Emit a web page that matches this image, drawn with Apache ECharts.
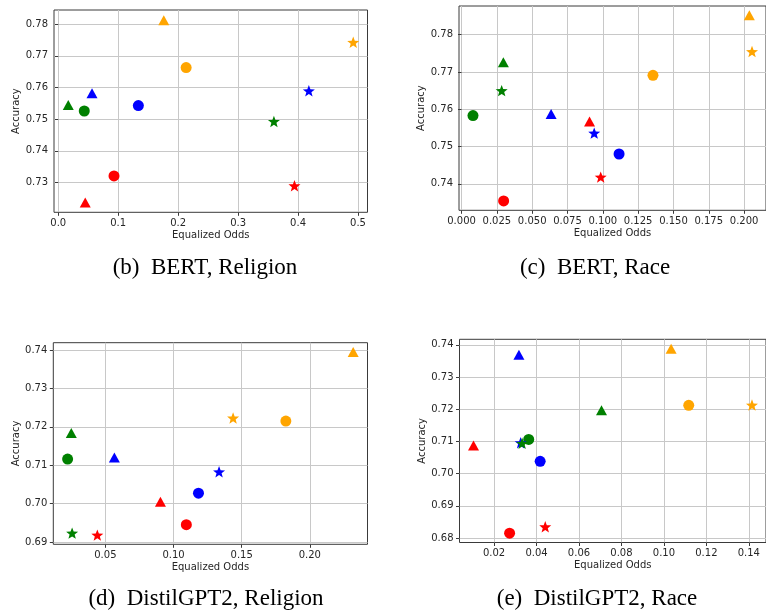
<!DOCTYPE html>
<html><head><meta charset="utf-8">
<script src="https://cdn.jsdelivr.net/npm/echarts@6/dist/echarts.min.js"></script>
<style>html,body{margin:0;padding:0;background:#fff}#c{width:766px;height:613px}</style>
</head><body><div id="c"></div>
<script>
// point order in every array: blue, orange, green, red
const methodColors = ['#0000ff', '#ffa500', '#008000', '#ff0000'];

// (b) BERT, Religion
const bertRelCircle   = [[0.1336, 0.7543], [0.2133, 0.7663], [0.0434, 0.7526], [0.0930, 0.7321]];
const bertRelTriangle = [[0.0563, 0.7582], [0.1760, 0.7813], [0.0167, 0.7545], [0.0450, 0.7237]];
const bertRelStar     = [[0.4180, 0.7590], [0.4920, 0.7743], [0.3597, 0.7493], [0.3940, 0.7290]];
const bertRelXRange = [-0.0071, 0.5158];
const bertRelYRange = [0.7206, 0.7845];
const bertRelXTicks = [0.0, 0.1, 0.2, 0.3, 0.4, 0.5];
const bertRelYTicks = [0.73, 0.74, 0.75, 0.76, 0.77, 0.78];

// (c) BERT, Race
const bertRaceCircle   = [[0.1115, 0.7480], [0.1355, 0.7691], [0.0081, 0.7583], [0.0298, 0.7354]];
const bertRaceTriangle = [[0.0634, 0.7587], [0.2037, 0.7852], [0.0296, 0.7726], [0.0906, 0.7567]];
const bertRaceStar     = [[0.0939, 0.7536], [0.2056, 0.7755], [0.0284, 0.7650], [0.0985, 0.7418]];
const bertRaceXRange = [-0.0018, 0.2155];
const bertRaceYRange = [0.7329, 0.7877];
const bertRaceXTicks = [0.000, 0.025, 0.050, 0.075, 0.100, 0.125, 0.150, 0.175, 0.200];
const bertRaceYTicks = [0.74, 0.75, 0.76, 0.77, 0.78];

// (d) DistilGPT2, Religion
const gptRelCircle   = [[0.1183, 0.7027], [0.1824, 0.7215], [0.0223, 0.7116], [0.1094, 0.6945]];
const gptRelTriangle = [[0.0566, 0.7120], [0.2318, 0.7395], [0.0250, 0.7184], [0.0904, 0.7005]];
const gptRelStar     = [[0.1334, 0.7083], [0.1437, 0.7223], [0.0256, 0.6923], [0.0441, 0.6918]];
const gptRelXRange = [0.0118, 0.2423];
const gptRelYRange = [0.6894, 0.7419];
const gptRelXTicks = [0.05, 0.10, 0.15, 0.20];
const gptRelYTicks = [0.69, 0.70, 0.71, 0.72, 0.73, 0.74];

// (e) DistilGPT2, Race
const gptRaceCircle   = [[0.0417, 0.7038], [0.1117, 0.7212], [0.0363, 0.7106], [0.0273, 0.6815]];
const gptRaceTriangle = [[0.0317, 0.7369], [0.1034, 0.7388], [0.0706, 0.7197], [0.0103, 0.7087]];
const gptRaceStar     = [[0.0325, 0.7096], [0.1415, 0.7213], [0.0332, 0.7094], [0.0441, 0.6835]];
const gptRaceXRange = [0.0037, 0.1481];
const gptRaceYRange = [0.6786, 0.7417];
const gptRaceXTicks = [0.02, 0.04, 0.06, 0.08, 0.10, 0.12, 0.14];
const gptRaceYTicks = [0.68, 0.69, 0.70, 0.71, 0.72, 0.73, 0.74];

const captions = ['(b)  BERT, Religion', '(c)  BERT, Race', '(d)  DistilGPT2, Religion', '(e)  DistilGPT2, Race'];
const xAxisTitle = 'Equalized Odds';
const yAxisTitle = 'Accuracy';

// star marker path
const starPath = (function () {
  let p = '';
  for (let k = 0; k < 10; k++) {
    const a = (-90 + 36 * k) * Math.PI / 180;
    const r = k % 2 === 0 ? 10 : 4.2;
    p += (k === 0 ? 'M' : 'L') + (r * Math.cos(a)).toFixed(3) + ' ' + (r * Math.sin(a)).toFixed(3) + ' ';
  }
  return 'path://' + p + 'Z';
})();

const panels = [
  { grid: { left: 54, top: 10, right: 398.5, bottom: 400.7 }, xr: bertRelXRange, yr: bertRelYRange,
    xt: bertRelXTicks, yt: bertRelYTicks, xd: 1, yd: 2, sets: [bertRelCircle, bertRelTriangle, bertRelStar],
    cap: [205, 268] },
  { grid: { left: 459, top: 6, right: -7, bottom: 402.7 }, xr: bertRaceXRange, yr: bertRaceYRange,
    xt: bertRaceXTicks, yt: bertRaceYTicks, xd: 3, yd: 2, sets: [bertRaceCircle, bertRaceTriangle, bertRaceStar],
    cap: [595, 268] },
  { grid: { left: 53.3, top: 342.7, right: 398.5, bottom: 68.7 }, xr: gptRelXRange, yr: gptRelYRange,
    xt: gptRelXTicks, yt: gptRelYTicks, xd: 2, yd: 2, sets: [gptRelCircle, gptRelTriangle, gptRelStar],
    cap: [206, 599] },
  { grid: { left: 459.5, top: 339.3, right: -6.8, bottom: 70.5 }, xr: gptRaceXRange, yr: gptRaceYRange,
    xt: gptRaceXTicks, yt: gptRaceYTicks, xd: 2, yd: 2, sets: [gptRaceCircle, gptRaceTriangle, gptRaceStar],
    cap: [597, 599] }
];

const shapes = [
  { symbol: 'circle', size: 11 },
  { symbol: 'triangle', size: [11, 10] },
  { symbol: starPath, size: 12 }
];

const labelStyle = { fontFamily: 'DejaVu Sans', fontSize: 10, color: '#262626' };
const grids = [], xAxes = [], yAxes = [], series = [], graphics = [];

panels.forEach((p, i) => {
  grids.push(Object.assign({ show: true, borderColor: '#3a3a3a', borderWidth: 1, backgroundColor: 'transparent' }, p.grid));
  xAxes.push({
    type: 'value', gridIndex: i, min: p.xr[0], max: p.xr[1],
    axisLine: { show: false },
    axisTick: { show: true, customValues: p.xt, length: 3.5, lineStyle: { color: '#3a3a3a' } },
    axisLabel: Object.assign({ customValues: p.xt, margin: 6, formatter: v => v.toFixed(p.xd) }, labelStyle),
    splitLine: { show: true, lineStyle: { color: '#c8c8c8', width: 1 } },
    name: xAxisTitle, nameLocation: 'middle', nameGap: 18,
    nameTextStyle: { fontFamily: 'DejaVu Sans', fontSize: 10, color: '#262626' }
  });
  yAxes.push({
    type: 'value', gridIndex: i, min: p.yr[0], max: p.yr[1],
    axisLine: { show: false },
    axisTick: { show: true, customValues: p.yt, length: 3.5, lineStyle: { color: '#3a3a3a' } },
    axisLabel: Object.assign({ customValues: p.yt, margin: 6, formatter: v => v.toFixed(p.yd) }, labelStyle),
    splitLine: { show: true, lineStyle: { color: '#c8c8c8', width: 1 } },
    name: yAxisTitle, nameLocation: 'middle', nameGap: 31,
    nameTextStyle: { fontFamily: 'DejaVu Sans', fontSize: 10, color: '#262626' }
  });
  p.sets.forEach((pts, s) => {
    series.push({
      type: 'scatter', xAxisIndex: i, yAxisIndex: i,
      symbol: shapes[s].symbol, symbolSize: shapes[s].size, symbolKeepAspect: true,
      data: pts.map((d, k) => ({ value: d, itemStyle: { color: methodColors[k], opacity: 1 } })),
      itemStyle: { opacity: 1 },
      silent: true, animation: false
    });
  });
  graphics.push({
    type: 'text', x: p.cap[0], y: p.cap[1],
    style: { text: captions[i], font: '23px "Liberation Serif"', fill: '#000', textAlign: 'center', textVerticalAlign: 'middle' }
  });
});

const chart = echarts.init(document.getElementById('c'), null, { renderer: 'canvas' });
chart.setOption({
  animation: false,
  backgroundColor: '#ffffff',
  grid: grids, xAxis: xAxes, yAxis: yAxes, series: series, graphic: graphics
});
</script>
</body></html>
